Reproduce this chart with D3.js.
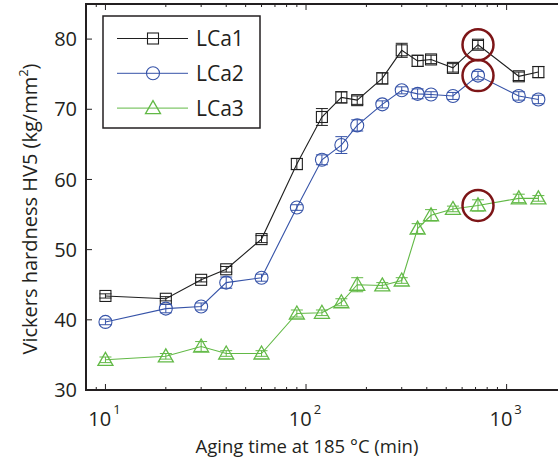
<!DOCTYPE html>
<html>
<head>
<meta charset="utf-8">
<script src="https://cdn.jsdelivr.net/npm/d3@7"></script>
<style>
  body { margin: 0; background: #fff; }
  svg text { font-family: "Open Sans", "Noto Sans", sans-serif; fill: #231f20; }
</style>
</head>
<body>
<div id="chart"></div>
<script>
// aging times (min)
const times = [10, 20, 30, 40, 60, 90, 120, 150, 180, 240, 300, 360, 420, 540, 720, 1150, 1440];

// hardness values
const lca1 = [43.4, 43.0, 45.7, 47.2, 51.5, 62.2, 68.9, 71.7, 71.3, 74.4, 78.4, 76.9, 77.1, 75.9, 79.2, 74.7, 75.3];
const lca2 = [39.7, 41.6, 41.9, 45.3, 46.0, 56.0, 62.8, 64.9, 67.7, 70.7, 72.7, 72.2, 72.1, 71.9, 74.8, 71.9, 71.4];
const lca3 = [34.3, 34.8, 36.2, 35.2, 35.2, 40.9, 41.0, 42.5, 45.0, 44.9, 45.6, 53.0, 54.9, 55.8, 56.3, 57.3, 57.3];

// error bar half-heights
const err1 = [0.3, 0.3, 0.3, 0.4, 0.5, 0.8, 1.2, 0.8, 0.6, 0.8, 1.0, 0.8, 0.6, 0.6, 0.6, 0.6, 0.8];
const err2 = [0.4, 0.6, 0.5, 0.8, 0.5, 0.4, 0.7, 1.2, 0.8, 0.5, 0.5, 0.7, 0.4, 0.5, 0.6, 0.6, 0.6];
const err3 = [0.4, 0.4, 0.7, 0.4, 0.4, 0.5, 0.4, 0.5, 1.0, 0.4, 0.4, 0.7, 0.8, 0.4, 0.8, 0.6, 0.4];

const seriesNames = ["LCa1", "LCa2", "LCa3"];
const highlightTime = 720;

const yTicks = [30, 40, 50, 60, 70, 80];
const xMajor = [10, 100, 1000];

const W = 558, H = 465;
const svg = d3.select("#chart").append("svg")
  .attr("width", W).attr("height", H);

const x = d3.scaleLog().domain([8, 2000]).range([86, 567]);
const y = d3.scaleLinear().domain([30, 85]).range([390, 4]);

const series = [
  { name: seriesNames[0], vals: lca1, err: err1, color: "#1f1f1f", marker: "square" },
  { name: seriesNames[1], vals: lca2, err: err2, color: "#3653a8", marker: "circle" },
  { name: seriesNames[2], vals: lca3, err: err3, color: "#62b946", marker: "triangle" }
];

// minor + major x ticks
const xMinor = [];
[1, 10, 100, 1000].forEach(function (dec) {
  for (let k = 2; k <= 9; k++) {
    const v = dec * k;
    if (v >= 8 && v <= 2000) xMinor.push(v);
  }
});

const axisG = svg.append("g");
// bottom + top ticks (inward)
xMinor.forEach(function (v) {
  axisG.append("line").attr("x1", x(v)).attr("x2", x(v)).attr("y1", 390).attr("y2", 387)
    .attr("stroke", "#231f20").attr("stroke-width", 1);
  axisG.append("line").attr("x1", x(v)).attr("x2", x(v)).attr("y1", 4).attr("y2", 7)
    .attr("stroke", "#231f20").attr("stroke-width", 1);
});
xMajor.forEach(function (v) {
  axisG.append("line").attr("x1", x(v)).attr("x2", x(v)).attr("y1", 390).attr("y2", 384)
    .attr("stroke", "#231f20").attr("stroke-width", 1);
  axisG.append("line").attr("x1", x(v)).attr("x2", x(v)).attr("y1", 4).attr("y2", 10)
    .attr("stroke", "#231f20").attr("stroke-width", 1);
  const t = axisG.append("text").attr("x", x(v) - 1).attr("y", 426)
    .attr("text-anchor", "middle").attr("font-size", 20);
  t.append("tspan").text("10");
  t.append("tspan").attr("dy", -12).attr("dx", 2).attr("font-size", 13).text(Math.log10(v));
});

// y ticks
yTicks.forEach(function (v) {
  axisG.append("line").attr("x1", 86).attr("x2", 92).attr("y1", y(v)).attr("y2", y(v))
    .attr("stroke", "#231f20").attr("stroke-width", 1);
  axisG.append("text").attr("x", 77).attr("y", y(v)).attr("dy", "0.36em")
    .attr("text-anchor", "end").attr("font-size", 20).text(v);
});

// box
axisG.append("rect").attr("x", 86).attr("y", 4).attr("width", 490).attr("height", 386)
  .attr("fill", "none").attr("stroke", "#231f20").attr("stroke-width", 2);

// axis labels
svg.append("text").attr("x", 307).attr("y", 453).attr("text-anchor", "middle")
  .attr("font-size", 18.5).text("Aging time at 185 °C (min)");

const yl = svg.append("text").attr("transform", "translate(37,209) rotate(-90)")
  .attr("text-anchor", "middle").attr("font-size", 20);
yl.append("tspan").text("Vickers hardness HV5 (kg/mm");
yl.append("tspan").attr("dy", -9).attr("font-size", 13).text("2");
yl.append("tspan").attr("dy", 9).text(")");

function drawMarker(g, type, cx, cy, color) {
  if (type === "square") {
    g.append("rect").attr("x", cx - 5.5).attr("y", cy - 5.5).attr("width", 11).attr("height", 11)
      .attr("fill", "none").attr("stroke", color).attr("stroke-width", 1.1);
  } else if (type === "circle") {
    g.append("circle").attr("cx", cx).attr("cy", cy).attr("r", 6.5)
      .attr("fill", "none").attr("stroke", color).attr("stroke-width", 1.1);
  } else {
    g.append("path")
      .attr("d", `M${cx},${cy - 7.5}L${cx + 7.5},${cy + 5.5}L${cx - 7.5},${cy + 5.5}Z`)
      .attr("fill", "none").attr("stroke", color).attr("stroke-width", 1.3);
  }
}

const line = d3.line().x(d => x(d.t)).y(d => y(d.v));

series.forEach(function (s) {
  const pts = times.map((t, i) => ({ t: t, v: s.vals[i], e: s.err[i] }));
  const g = svg.append("g");
  g.append("path").datum(pts).attr("d", line)
    .attr("fill", "none").attr("stroke", s.color).attr("stroke-width", 1.1);
  // error bars
  pts.forEach(function (d) {
    const cx = x(d.t);
    const y1 = y(d.v - d.e), y2 = y(d.v + d.e);
    g.append("line").attr("x1", cx).attr("x2", cx).attr("y1", y1).attr("y2", y2)
      .attr("stroke", s.color).attr("stroke-width", 1);
    [y1, y2].forEach(function (yy) {
      g.append("line").attr("x1", cx - 6).attr("x2", cx + 6).attr("y1", yy).attr("y2", yy)
        .attr("stroke", s.color).attr("stroke-width", 1);
    });
    drawMarker(g, s.marker, cx, y(d.v), s.color);
  });
});

// highlight circles at the peak time
series.forEach(function (s) {
  const i = times.indexOf(highlightTime);
  svg.append("circle").attr("cx", x(highlightTime)).attr("cy", y(s.vals[i])).attr("r", 15.5)
    .attr("fill", "none").attr("stroke", "#7d1517").attr("stroke-width", 2.5);
});

// legend
const leg = svg.append("g");
leg.append("rect").attr("x", 103).attr("y", 16).attr("width", 157).attr("height", 112)
  .attr("fill", "#fff").attr("stroke", "#231f20").attr("stroke-width", 1.5);
series.forEach(function (s, i) {
  const ly = 38.5 + i * 34.8;
  leg.append("line").attr("x1", 117).attr("x2", 188).attr("y1", ly).attr("y2", ly)
    .attr("stroke", s.color).attr("stroke-width", 1);
  drawMarker(leg, s.marker, 153, ly, s.color);
  leg.append("text").attr("x", 196).attr("y", ly).attr("dy", "0.36em")
    .attr("font-size", 21).text(s.name);
});
</script>
</body>
</html>
